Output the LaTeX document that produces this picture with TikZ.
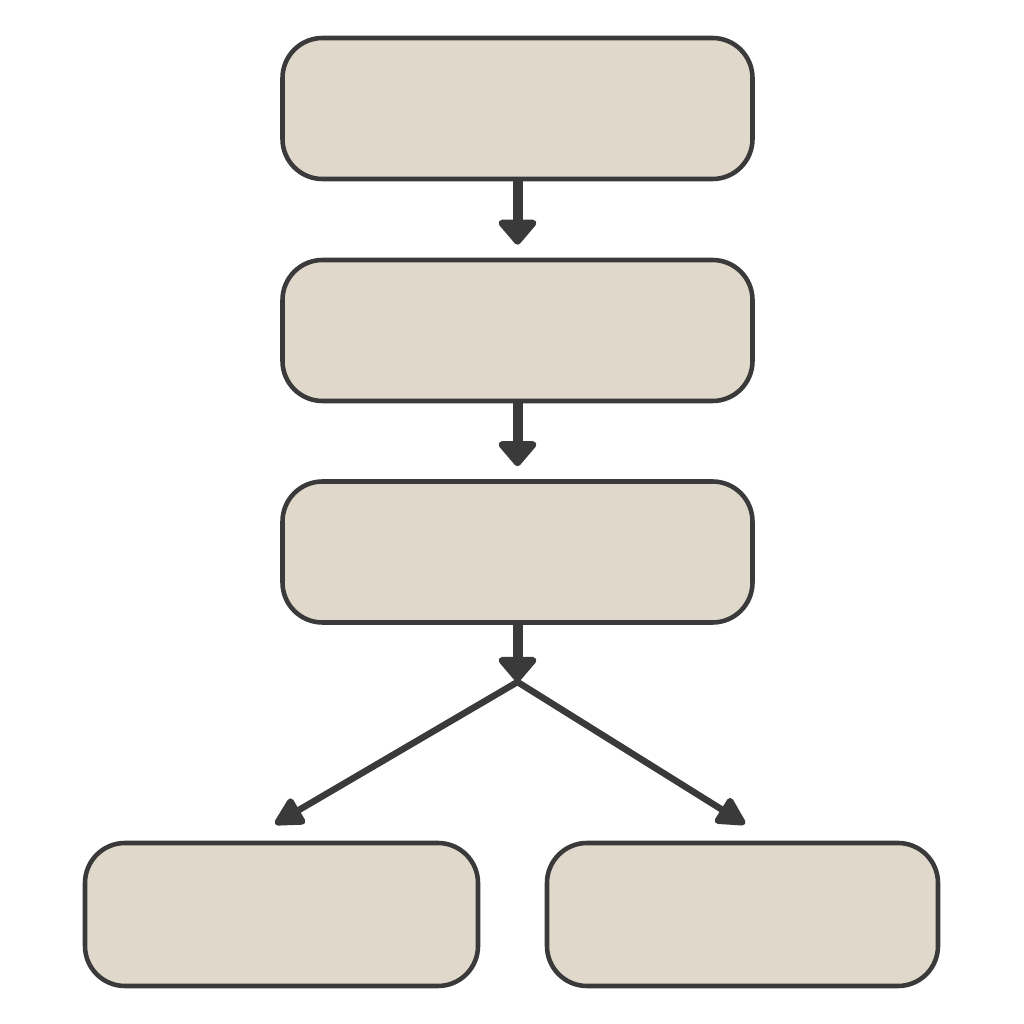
\documentclass[tikz,border=0pt]{standalone}
\usepackage{tikz}
\usepackage{xcolor}
\usetikzlibrary{arrows.meta}

\definecolor{boxfill}{RGB}{224,216,203}
\definecolor{boxline}{RGB}{58,58,58}

\begin{document}
\begin{tikzpicture}[
            block/.style={rectangle, draw=boxline, fill=boxfill, line width=1.3pt, rounded corners=0.4cm, minimum width=4.7cm, minimum height=1.41cm},
            arrow/.style={draw=boxline, line width=0.1cm, -{Triangle[width=0.44cm,length=0.27cm,round]}},
            thinarrow/.style={draw=boxline, line width=0.065cm, -{Triangle[width=0.32cm,length=0.32cm,round]}}
        ]
            % Page size
            \useasboundingbox[fill=white] (0,0) rectangle (10.24,10.24);

            % Main column
            \node[block] (first) at (5.175,9.155) {};
            \node[block] (second) at (5.175,6.935) {};
            \node[block] (third) at (5.175,4.72) {};

            % Branch boxes
            \node[block, minimum width=3.93cm, minimum height=1.43cm] (branchl) at (2.815,1.095) {};
            \node[block, minimum width=3.91cm, minimum height=1.43cm] (branchr) at (7.425,1.095) {};

            % Split point and arrow ends
            \coordinate (split) at (5.175,3.42);
            \coordinate (tipl) at (2.75,2.0);
            \coordinate (tipr) at (7.45,2.0);

            % Arrows
            \draw[arrow, shorten >=0.13cm] (first) -- (second);
            \draw[arrow, shorten >=0.13cm] (second) -- (third);
            \draw[arrow] (third.south) -- (split);
            \draw[thinarrow] (split) -- (tipl);
            \draw[thinarrow] (split) -- (tipr);
        \end{tikzpicture}
\end{document}
